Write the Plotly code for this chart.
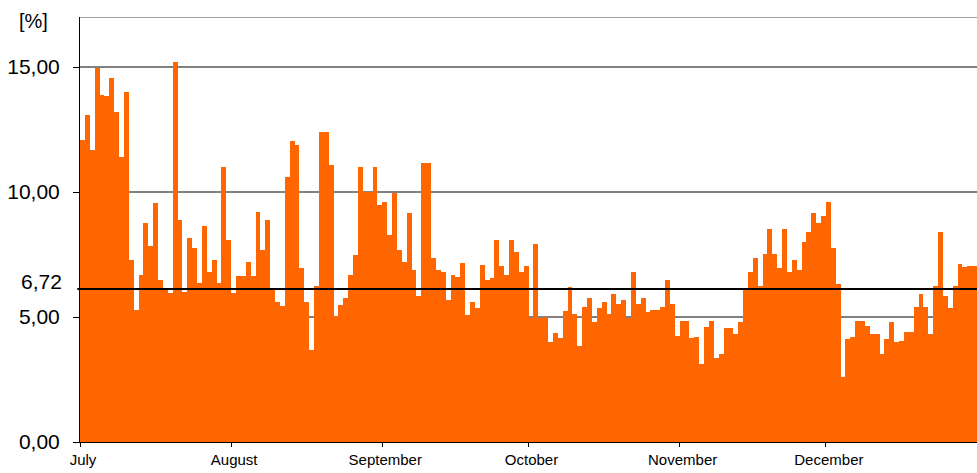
import numpy as np
import plotly.graph_objects as go

# ---- data (daily values, July .. December) ----
months = ["July", "August", "September", "October", "November", "December"]

july = [12.1, 13.1, 11.7, 14.95, 13.9, 13.85, 14.55, 13.2, 11.4, 14.0, 7.3, 5.3, 6.7, 8.75,
        7.85, 9.55, 6.5, 6.15, 5.95, 15.2, 8.9, 6.0, 8.15, 7.75, 6.35, 8.65, 6.8, 7.3, 6.35,
        11.0, 8.1]
august = [5.95, 6.65, 6.65, 7.2, 6.65, 9.2, 7.7, 8.9, 6.1, 5.6, 5.45, 10.6, 12.05, 11.9, 6.95,
          5.6, 3.7, 6.25, 12.4, 12.4, 11.1, 5.05, 5.5, 5.75, 6.7, 7.5, 11.0, 10.0, 10.0, 11.0,
          9.5]
september = [9.6, 8.3, 9.95, 7.7, 7.2, 9.15, 6.9, 5.85, 11.15, 11.15, 7.35, 6.9, 6.8, 5.7, 6.7,
             6.6, 7.15, 5.1, 5.6, 5.35, 7.1, 6.5, 6.55, 8.1, 7.05, 6.7, 8.1, 7.6, 6.8, 7.05]
october = [4.97, 7.92, 4.97, 5.0, 3.99, 4.35, 4.15, 5.25, 6.21, 5.11, 3.84, 5.41, 5.75, 4.81,
           5.35, 5.59, 5.12, 5.92, 5.52, 5.68, 4.97, 6.79, 5.51, 5.75, 5.21, 5.28, 5.28, 5.41,
           6.48, 5.51, 4.24]
november = [4.85, 4.85, 4.15, 4.21, 3.11, 4.61, 4.85, 3.35, 3.51, 4.55, 4.55, 4.31, 4.79, 6.08,
            6.81, 7.37, 6.24, 7.52, 8.51, 7.52, 6.95, 8.51, 6.81, 7.28, 6.88, 8.01, 8.41, 9.15,
            8.75, 9.05]
december = [9.61, 7.75, 6.31, 2.61, 4.12, 4.21, 4.85, 4.85, 4.65, 4.31, 4.31, 3.52, 4.12, 4.79,
            3.99, 4.05, 4.39, 4.39, 5.41, 5.91, 5.41, 4.31, 6.24, 8.41, 5.84, 5.37, 6.24, 7.12,
            6.99, 7.05, 7.05]

y_tick_values = [0, 5, 10, 15]
y_tick_labels = ["0,00", "5,00", "10,00", "15,00"]
average_label = "6,72"
average_line_level = 6.12   # where the black reference line is drawn in the picture
unit_label = "[%]"

# ---- build ----
monthly = [july, august, september, october, november, december]
values = np.concatenate([np.array(m, dtype=float) for m in monthly])
day_index = np.arange(len(values)) + 0.5
month_starts = np.cumsum([0] + [len(m) for m in monthly[:-1]])

ORANGE = "#FF6600"
FONT = "Liberation Sans, Arial, sans-serif"

fig = go.Figure()
fig.add_trace(go.Bar(
    x=day_index, y=values, width=1.0,
    marker=dict(color=ORANGE, line=dict(width=0)),
    hoverinfo="y", showlegend=False,
))

fig.update_layout(
    width=977, height=473,
    margin=dict(l=80, r=0, t=17, b=31, pad=0, autoexpand=False),
    paper_bgcolor="white", plot_bgcolor="white",
    bargap=0,
    font=dict(family=FONT, color="black"),
)

fig.update_xaxes(
    range=[0, len(values)], automargin=False,
    tickmode="array", tickvals=month_starts, ticktext=months,
    ticks="outside", ticklen=4, tickwidth=1, tickcolor="black",
    tickfont=dict(size=15, family=FONT, color="black"),
    ticklabelshift=3,
    showline=True, linecolor="black", linewidth=1,
    showgrid=False, zeroline=False,
)

fig.update_yaxes(
    range=[0, 17], automargin=False,
    tickmode="array", tickvals=y_tick_values, ticktext=y_tick_labels,
    ticks="outside", ticklen=6, tickwidth=1, tickcolor="black",
    tickfont=dict(size=21, family=FONT, color="black"),
    ticklabelstandoff=9,
    showline=True, linecolor="black", linewidth=1,
    showgrid=True, gridcolor="#808080", gridwidth=1.5,
    zeroline=False,
)

# top border of the plot area
fig.add_shape(type="line", xref="paper", yref="y", x0=0, x1=1, y0=17, y1=17,
              line=dict(color="#808080", width=1.5), layer="below")

# reference (average) line on top of bars
fig.add_shape(type="line", xref="paper", yref="y", x0=-0.003, x1=1,
              y0=average_line_level, y1=average_line_level,
              line=dict(color="black", width=2), layer="above")

fig.add_annotation(text=average_label, xref="paper", yref="y", x=0, y=average_line_level,
                   xanchor="right", yanchor="middle", xshift=-16, yshift=8,
                   showarrow=False, font=dict(size=21, family=FONT, color="black"))

fig.add_annotation(text=unit_label, xref="paper", yref="paper", x=-0.0513, y=0.99,
                   xanchor="center", yanchor="middle", showarrow=False,
                   font=dict(size=20, family=FONT, color="black"))

# remove the default page margin so the figure fills the window exactly
fig.write_html("out.html",
               config={"displayModeBar": False},
               post_script="document.body.style.margin='0';"
                           "document.body.style.overflow='hidden';")
